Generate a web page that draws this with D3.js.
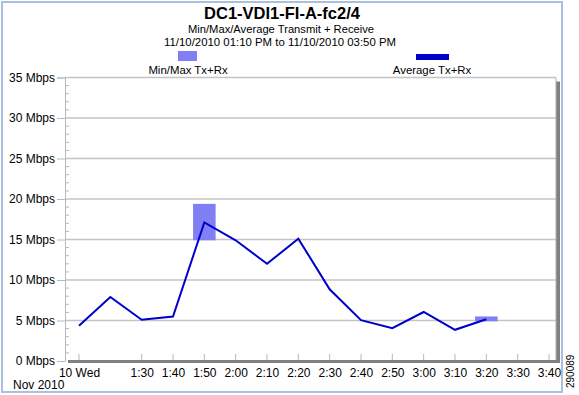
<!DOCTYPE html>
<html><head><meta charset="utf-8">
<script src="https://cdn.jsdelivr.net/npm/d3@7"></script>
<style>
html,body{margin:0;padding:0;background:#fff;}
svg{display:block;font-family:"Liberation Sans",Arial,sans-serif;}
</style></head>
<body><svg id="c" width="579" height="395"></svg>
<script>
// ---- data ----
const times = ["13:10","13:20","13:30","13:40","13:50","14:00","14:10","14:20","14:30","14:40","14:50","15:00","15:10","15:20"];
const avgMbps = [4.35, 7.9, 5.1, 5.5, 17.1, 14.9, 12.0, 15.1, 8.85, 5.05, 4.05, 6.05, 3.85, 5.15];
const minMbps = [null, null, null, null, 14.9, null, null, null, null, null, null, null, null, 4.9];
const maxMbps = [null, null, null, null, 19.4, null, null, null, null, null, null, null, null, 5.5];
const tickTimes = ["13:10","13:30","13:40","13:50","14:00","14:10","14:20","14:30","14:40","14:50","15:00","15:10","15:20","15:30","15:40"];
const tickLabels = ["10 Wed","1:30","1:40","1:50","2:00","2:10","2:20","2:30","2:40","2:50","3:00","3:10","3:20","3:30","3:40"];
const yTicks = [0,5,10,15,20,25,30,35];
const yLabels = ["0 Mbps","5 Mbps","10 Mbps","15 Mbps","20 Mbps","25 Mbps","30 Mbps","35 Mbps"];
const title = "DC1-VDI1-FI-A-fc2/4";
const subtitle1 = "Min/Max/Average Transmit + Receive";
const subtitle2 = "11/10/2010 01:10 PM to 11/10/2010 03:50 PM";
const legendLabels = ["Min/Max Tx+Rx","Average Tx+Rx"];

const parse = t => { const [h,m]=t.split(":").map(Number); return new Date(2010,10,10,h,m); };

const svg = d3.select("#c");
const pL = 65, pR = 556, pT = 77.5, pB = 361;

const x = d3.scaleTime().domain([parse("13:10"), parse("15:40")]).range([79, 549]);
const y = d3.scaleLinear().domain([0,35]).range([pB, pT]);

// outer frame
svg.append("rect").attr("x",2).attr("y",2).attr("width",560).attr("height",390)
  .attr("fill","none").attr("stroke","#a9c1de").attr("stroke-width",2);

// titles
svg.append("text").attr("x",282).attr("y",19).attr("text-anchor","middle")
  .attr("font-size",16.5).attr("font-weight","bold").text(title);
svg.append("text").attr("x",281).attr("y",33).attr("text-anchor","middle")
  .attr("font-size",11.2).text(subtitle1);
svg.append("text").attr("x",280).attr("y",46).attr("text-anchor","middle")
  .attr("font-size",11.4).text(subtitle2);

// legend
svg.append("rect").attr("x",178).attr("y",51).attr("width",19).attr("height",10).attr("fill","#8080f4");
svg.append("rect").attr("x",416).attr("y",54).attr("width",33).attr("height",6).attr("fill","#0000cc");
svg.append("text").attr("x",188).attr("y",74).attr("text-anchor","middle").attr("font-size",11.4).text(legendLabels[0]);
svg.append("text").attr("x",432).attr("y",74).attr("text-anchor","middle").attr("font-size",11.4).text(legendLabels[1]);

// shadow
svg.append("rect").attr("x",pR).attr("y",pT+4).attr("width",4).attr("height",pB-pT-2).attr("fill","#808080");
svg.append("rect").attr("x",pL+3).attr("y",pB-1).attr("width",pR-pL+1).attr("height",3).attr("fill","#808080");

// gridlines
svg.append("g").selectAll("line").data(yTicks.filter(d=>d>0)).join("line")
  .attr("x1",pL).attr("x2",pR).attr("y1",d=>y(d)).attr("y2",d=>y(d))
  .attr("stroke","#c4c4c4").attr("stroke-width",1.5);
// right border
svg.append("line").attr("x1",pR).attr("x2",pR).attr("y1",pT).attr("y2",pB-1)
  .attr("stroke","#b0b0b0").attr("stroke-width",1);

// y axis
const yAxis = d3.axisLeft(y).tickValues(yTicks).tickFormat((d,i)=>yLabels[i]).tickSize(8).tickPadding(2);
const gy = svg.append("g").attr("transform",`translate(${pL},0)`).call(yAxis);
gy.select(".domain").attr("stroke","#b8b8b8");
gy.selectAll(".tick line").attr("stroke","#b8b8b8");
gy.selectAll(".tick text").attr("font-size",12).attr("fill","#000").attr("font-family","Liberation Sans, Arial, sans-serif");
// minor ticks
const minor = d3.range(0,36).filter(d=>d%5!==0);
svg.append("g").selectAll("line").data(minor).join("line")
  .attr("x1",pL).attr("x2",pL+4).attr("y1",d=>y(d)).attr("y2",d=>y(d))
  .attr("stroke","#b8b8b8");

// x axis
const xAxis = d3.axisBottom(x).tickValues(tickTimes.map(parse)).tickFormat((d,i)=>tickLabels[i]).tickSize(0).tickPadding(7);
const gx = svg.append("g").attr("transform",`translate(0,${pB})`).call(xAxis);
gx.select(".domain").remove();
gx.selectAll(".tick text").attr("font-size",12).attr("fill","#000").attr("font-family","Liberation Sans, Arial, sans-serif");
svg.append("g").selectAll("line").data(tickTimes.map(parse)).join("line")
  .attr("x1",d=>x(d)).attr("x2",d=>x(d)).attr("y1",pB-7).attr("y2",pB-1)
  .attr("stroke","#b8b8b8");
svg.append("text").attr("x",13).attr("y",389).attr("font-size",12).text("Nov 2010");

// min/max boxes
const half = 3.6*60*1000;
const boxes = times.map((t,i)=>({t:parse(t),mn:minMbps[i],mx:maxMbps[i]})).filter(d=>d.mn!=null);
svg.append("g").selectAll("rect").data(boxes).join("rect")
  .attr("x",d=>x(new Date(+d.t-half))).attr("width",d=>x(new Date(+d.t+half))-x(new Date(+d.t-half)))
  .attr("y",d=>y(d.mx)).attr("height",d=>y(d.mn)-y(d.mx)).attr("fill","#8080f4");

// average line
const line = d3.line().x((d,i)=>x(parse(times[i]))).y(d=>y(d));
svg.append("path").datum(avgMbps).attr("d",line).attr("fill","none")
  .attr("stroke","#0000cc").attr("stroke-width",2).attr("stroke-linejoin","miter");

// id
svg.append("text").attr("transform","translate(574,388) rotate(-90)").attr("font-size",10).text("290089");
</script></body></html>
